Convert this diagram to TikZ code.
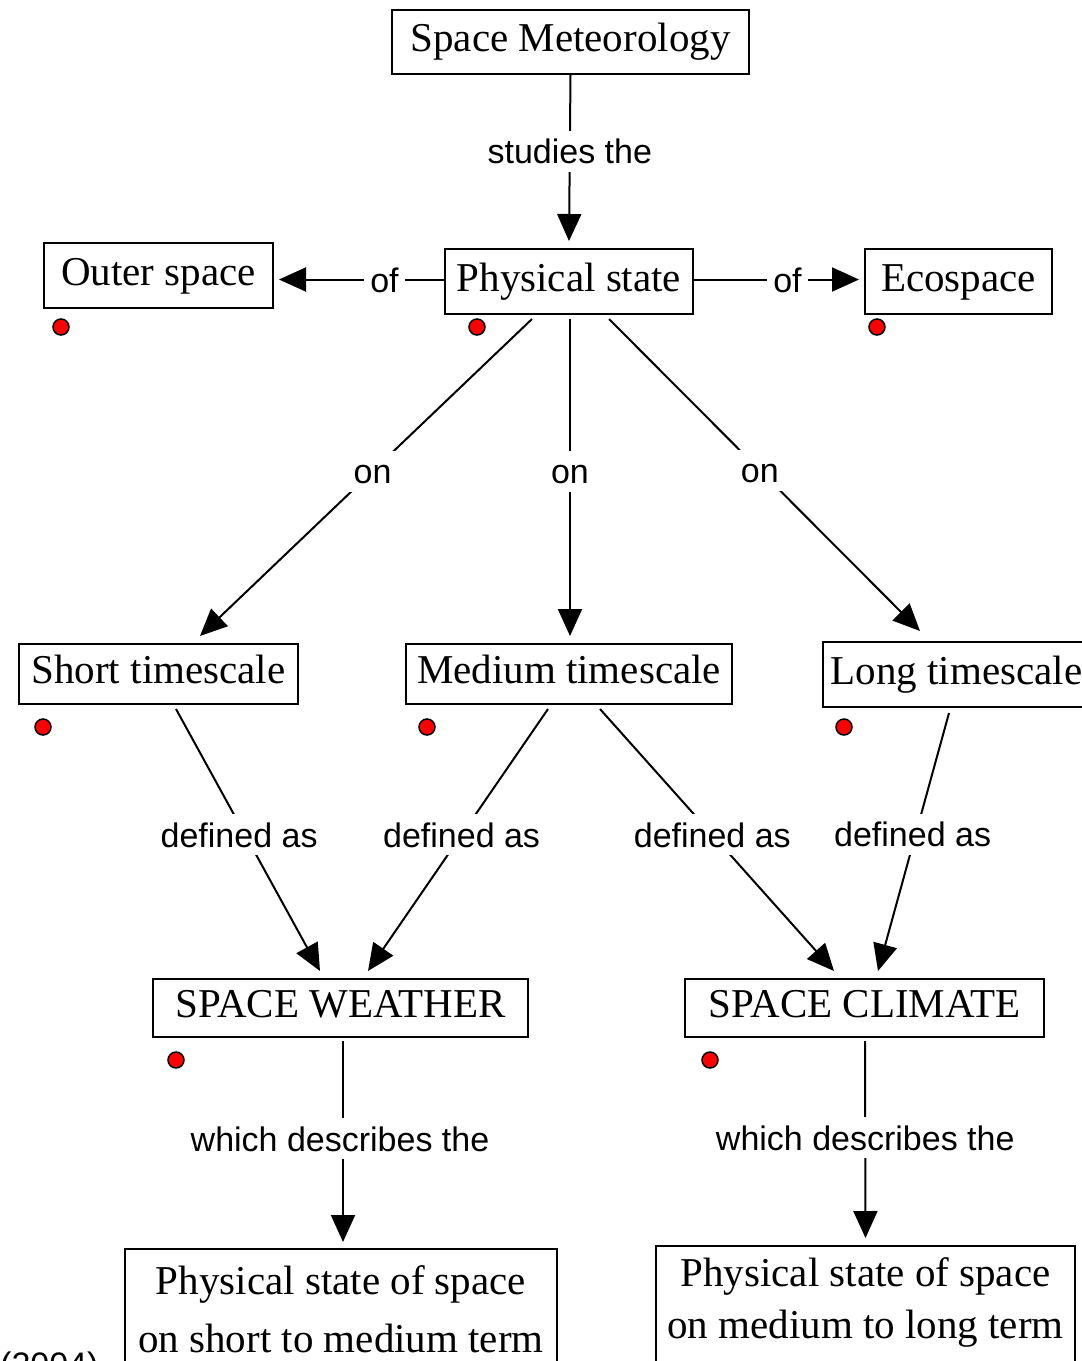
\documentclass[tikz,border=0pt]{standalone}
\usepackage{fontspec}
\setmainfont{Liberation Serif}
\setsansfont{Liberation Sans}
\usetikzlibrary{arrows.meta}

\begin{document}
\begin{tikzpicture}[x=1pt,y=-1pt,
  concept/.style={draw, line width=2pt, font=\fontsize{41}{49}\selectfont,
    inner xsep=8pt, inner ysep=0pt, text height=28pt, text depth=9pt},
  twoline/.style={draw, line width=2pt, align=center, anchor=north,
    inner xsep=8pt, text depth=60pt},
  link/.style={font=\sffamily\fontsize{34}{40}\selectfont, fill=white,
    inner xsep=6pt, inner ysep=8pt, text height=25pt, text depth=0pt},
  conn/.style={line width=2pt},
  arr/.style={conn, -{Triangle[length=27pt,width=24pt]}},
  marker/.style={circle, fill=red, draw=black, line width=1.5pt,
    minimum size=16pt, inner sep=0pt}
]
\useasboundingbox (0,0) rectangle (1082,1361);
\clip (0,0) rectangle (1082,1361);

% concepts
\node[concept, minimum width=357pt, minimum height=64pt] (sm) at (570.5,42) {Space Meteorology};
\node[concept, minimum width=248pt, minimum height=65pt] (ps) at (569,281.5) {Physical state};
\node[concept, minimum width=229pt, minimum height=65pt] (os) at (158.5,275.5) {Outer space};
\node[concept, minimum width=187pt, minimum height=65pt] (eco) at (958.5,281.5) {Ecospace};
\node[concept, minimum width=279pt, minimum height=60pt] (st) at (158.5,674) {Short timescale};
\node[concept, minimum width=326pt, minimum height=60pt] (mt) at (569,674) {Medium timescale};
\node[concept, minimum width=267pt, minimum height=65pt] (lt) at (956.5,674.5) {Long timescale};
\node[concept, minimum width=375pt, minimum height=58pt] (sw) at (340.5,1008) {SPACE WEATHER};
\node[concept, minimum width=359pt, minimum height=58pt] (sc) at (864.5,1008) {SPACE CLIMATE};
\node[twoline, minimum width=432pt, inner ysep=17pt, font=\fontsize{41}{58}\selectfont]
  (ssm) at (341,1248) {Physical state of space\\on short to medium term};
\node[twoline, minimum width=419pt, inner ysep=12pt, font=\fontsize{41}{52}\selectfont]
  (sml) at (865.5,1245) {Physical state of space\\on medium to long term};

% markers under the concepts
\foreach \n/\p in {m1/{(61,327)}, m2/{(477,327)}, m3/{(877,327)}, m4/{(43,727)},
                   m5/{(427,727)}, m6/{(844,727)}, m7/{(176,1060)}, m8/{(710,1060)}}
  \node[marker] (\n) at \p {};

% connectors with linking phrases
\draw[arr] (sm.south) -- ([yshift=7pt]ps.north)
  node[link, pos=0.46] {studies the};
\draw[arr, shorten >=5pt] ([yshift=2pt]ps.west) -- ([yshift=2pt]ps.west -| os.east)
  node[link, pos=0.35] {of};
\draw[arr, shorten >=5pt] ([yshift=2pt]ps.east) -- ([yshift=2pt]ps.east -| eco.west)
  node[link, pos=0.55] {of};

\draw[arr] ([xshift=-37pt,yshift=-4pt]ps.south) -- ([xshift=41.5pt,yshift=7pt]st.north)
  node[link, pos=0.48] {on};
\draw[arr] ([xshift=1pt,yshift=-4pt]ps.south) -- ([xshift=1pt,yshift=7pt]mt.north)
  node[link, pos=0.48] {on};
\draw[arr] ([xshift=40pt,yshift=-4pt]ps.south) -- ([xshift=-36.5pt,yshift=10pt]lt.north)
  node[link, pos=0.485] {on};

\draw[arr] ([xshift=17.5pt,yshift=-4pt]st.south) -- ([xshift=-20.5pt,yshift=7pt]sw.north)
  node[link, pos=0.48, xshift=-6pt] {defined as};
\draw[arr] ([xshift=-21pt,yshift=-4pt]mt.south) -- ([xshift=27.5pt,yshift=7pt]sw.north)
  node[link, pos=0.48] {defined as};
\draw[arr] ([xshift=31pt,yshift=-4pt]mt.south) -- ([xshift=-30.5pt,yshift=7pt]sc.north)
  node[link, pos=0.48] {defined as};
\draw[arr] ([xshift=-7.5pt,yshift=-5pt]lt.south) -- ([xshift=13.5pt,yshift=7pt]sc.north)
  node[link, pos=0.47, xshift=-3pt] {defined as};

\draw[arr] ([xshift=2.5pt,yshift=-3pt]sw.south) -- ([xshift=2pt,yshift=6pt]ssm.north)
  node[link, pos=0.485, xshift=-3pt] {which describes the};
\draw[arr] ([xshift=0.5pt,yshift=-3pt]sc.south) -- ([yshift=7pt]sml.north)
  node[link, pos=0.49] {which describes the};

% source note at the lower edge
\node[font=\sffamily\fontsize{34}{40}\selectfont, anchor=base west, inner sep=0pt]
  (src) at (0,1376) {(2004)};
\end{tikzpicture}
\end{document}
